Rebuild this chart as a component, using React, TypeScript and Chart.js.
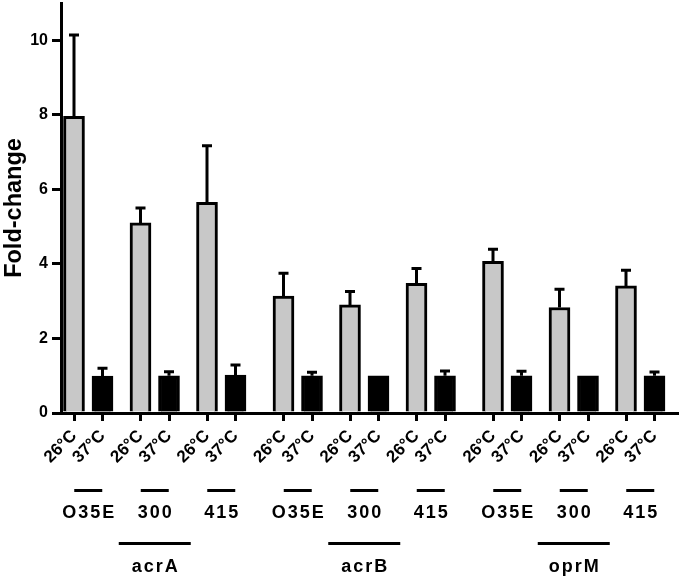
import React, { useEffect, useRef } from 'react';
import { Chart, registerables } from 'chart.js';

Chart.register(...registerables);

const genes = ['acrA', 'acrB', 'oprM'];
const strains = ['O35E', '300', '415'];
const temps = ['26°C', '37°C'];
const fold26 = [7.96, 5.1, 5.65, 3.14, 2.9, 3.48, 4.07, 2.83, 3.41];
const err26 = [2.18, 0.4, 1.52, 0.61, 0.36, 0.4, 0.32, 0.49, 0.42];
const fold37 = [0.99, 1.0, 1.02, 1.0, 1.0, 1.0, 1.0, 1.0, 1.0];
const err37 = [0.21, 0.11, 0.27, 0.09, 0.02, 0.13, 0.12, 0.02, 0.1];
const yTicks = [0, 2, 4, 6, 8, 10];

// layout steps along the linear x axis
const GENE_STEP = 209.5;
const STRAIN_STEP = 66.5;
const TEMP_STEP = 28.5;
const xPos = (g: number, s: number, t: number) => g * GENE_STEP + s * STRAIN_STEP + t * TEMP_STEP;

const FONT = "'Liberation Sans', Arial, sans-serif";

const xTickList: { value: number; label: string }[] = [];
genes.forEach((_, g) =>
  strains.forEach((__, s) =>
    temps.forEach((t, ti) => xTickList.push({ value: xPos(g, s, ti), label: t }))
  )
);

const errorBarPlugin = {
  id: 'errorBars',
  afterDatasetsDraw(chart: any) {
    const ctx = chart.ctx;
    const y = chart.scales.y;
    const errs = [err26, err37];
    const vals = [fold26, fold37];
    ctx.save();
    ctx.strokeStyle = '#000';
    ctx.lineWidth = 3;
    chart.data.datasets.forEach((_: any, di: number) => {
      const meta = chart.getDatasetMeta(di);
      meta.data.forEach((bar: any, i: number) => {
        const top = y.getPixelForValue(vals[di][i] + errs[di][i]);
        const base = y.getPixelForValue(vals[di][i]);
        if (base - top < 1) return;
        ctx.beginPath();
        ctx.moveTo(bar.x, base);
        ctx.lineTo(bar.x, top);
        ctx.moveTo(bar.x - 5, top);
        ctx.lineTo(bar.x + 5, top);
        ctx.stroke();
      });
    });
    ctx.restore();
  },
};

const groupLabelPlugin = {
  id: 'groupLabels',
  afterDraw(chart: any) {
    const ctx = chart.ctx;
    const x = chart.scales.x;
    ctx.save();
    ctx.fillStyle = '#000';
    ctx.strokeStyle = '#000';
    ctx.lineWidth = 3;
    ctx.textAlign = 'center';
    ctx.textBaseline = 'alphabetic';
    ctx.font = `bold 18px ${FONT}`;
    try { (ctx as any).letterSpacing = '2px'; } catch (e) {}
    genes.forEach((gene, g) => {
      strains.forEach((strain, s) => {
        const cx = x.getPixelForValue(xPos(g, s, 0.5));
        ctx.beginPath();
        ctx.moveTo(cx - 14, 490.5);
        ctx.lineTo(cx + 14, 490.5);
        ctx.stroke();
        ctx.fillText(strain, cx + 1, 518);
      });
      const gx = x.getPixelForValue(xPos(g, 1, 0.5));
      ctx.beginPath();
      ctx.moveTo(gx - 36, 543.5);
      ctx.lineTo(gx + 36, 543.5);
      ctx.stroke();
      ctx.fillText(gene, gx + 1, 572);
    });
    ctx.restore();
  },
};

export default function App() {
  const ref = useRef<HTMLCanvasElement>(null);
  useEffect(() => {
    document.body.style.margin = '0';
    const barData = (vals: number[], t: number) =>
      vals.map((v, i) => ({ x: xPos(Math.floor(i / 3), i % 3, t), y: v }));
    const chart = new Chart(ref.current as HTMLCanvasElement, {
      type: 'bar',
      data: {
        datasets: [
          {
            label: temps[0],
            data: barData(fold26, 0) as any,
            backgroundColor: '#c8c8c8',
            borderColor: '#000',
            borderWidth: 3,
            barThickness: 21,
            grouped: false,
          } as any,
          {
            label: temps[1],
            data: barData(fold37, 1) as any,
            backgroundColor: '#000',
            borderColor: '#000',
            borderWidth: 3,
            barThickness: 21,
            grouped: false,
          } as any,
        ],
      },
      plugins: [errorBarPlugin, groupLabelPlugin],
      options: {
        animation: false,
        responsive: false,
        devicePixelRatio: 1,
        layout: { padding: { left: 0, top: 3, right: 3, bottom: 0 } },
        plugins: { legend: { display: false }, tooltip: { enabled: false } },
        scales: {
          x: {
            type: 'linear',
            offset: false,
            min: -13,
            max: 603,
            afterBuildTicks: (axis: any) => {
              axis.ticks = xTickList.map((t) => ({ value: t.value }));
            },
            afterFit: (axis: any) => {
              axis.height = 165;
              axis.paddingLeft = 0;
              axis.paddingRight = 0;
            },
            ticks: {
              autoSkip: false,
              minRotation: 45,
              maxRotation: 45,
              padding: 5,
              color: '#000',
              font: { family: FONT, weight: 'bold', size: 17 },
              callback: (_v: any, i: number) => xTickList[i].label,
            },
            grid: {
              offset: false,
              drawOnChartArea: false,
              drawTicks: true,
              tickLength: 8,
              lineWidth: 3,
              color: '#000',
            },
            border: { display: true, width: 3, color: '#000' },
          },
          y: {
            min: 0,
            max: 11,
            afterBuildTicks: (axis: any) => {
              axis.ticks = yTicks.map((v) => ({ value: v }));
            },
            afterFit: (axis: any) => {
              axis.width = 61;
              axis.paddingTop = 0;
              axis.paddingBottom = 0;
            },
            ticks: {
              padding: 4,
              color: '#000',
              font: { family: FONT, weight: 'bold', size: 16 },
            },
            grid: {
              drawOnChartArea: false,
              drawTicks: true,
              tickLength: 9,
              lineWidth: 3,
              color: '#000',
            },
            border: { display: true, width: 3, color: '#000' },
            title: {
              display: true,
              text: 'Fold-change',
              color: '#000',
              padding: { top: 0, bottom: 0 },
              font: { family: FONT, weight: 'bold', size: 23.5 },
            },
          },
        },
      } as any,
    });
    return () => chart.destroy();
  }, []);
  return (
    <div style={{ position: 'absolute', left: 0, top: 0, width: 680, height: 578 }}>
      <canvas ref={ref} width={680} height={578} />
    </div>
  );
}
